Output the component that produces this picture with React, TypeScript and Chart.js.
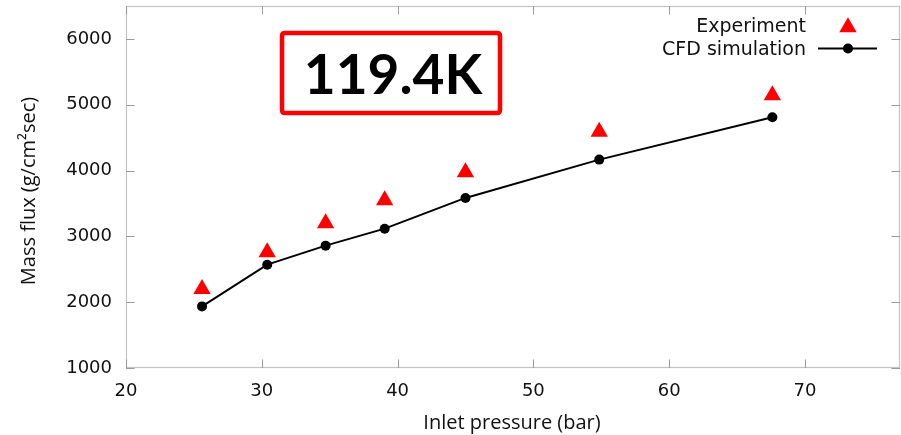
import React, { useEffect, useRef } from 'react';
import { Chart, registerables } from 'chart.js';

Chart.register(...registerables);

// ---- data ----
const pressures = [25.6, 30.4, 34.7, 39.05, 45.0, 54.85, 67.6];
const experiment = [2200, 2760, 3200, 3550, 3975, 4590, 5145];
const cfd = [1936, 2570, 2859, 3117, 3584, 4166, 4809];
const xTicks = [20, 30, 40, 50, 60, 70];
const yTicks = [1000, 2000, 3000, 4000, 5000, 6000];
const xTitle = 'Inlet pressure (bar)';
const yTitle = 'Mass flux (g/cm²sec)';
const legendLabels = ['Experiment', 'CFD simulation'];
const boxLabel = '119.4K';

const TICK_FONT = '"DejaVu Sans", sans-serif';
const TITLE_FONT = '"Open Sans", sans-serif';

const framePlugin = {
  id: 'frame',
  afterDraw(chart: any) {
    const { ctx, chartArea } = chart;
    const { left, right, top, bottom } = chartArea;
    const xs = chart.scales.x;
    const ys = chart.scales.y;
    ctx.save();
    // frame box
    ctx.strokeStyle = '#c4c4c4';
    ctx.lineWidth = 1.2;
    ctx.strokeRect(left + 0.5, top + 0.5, right - left - 1, bottom - top - 1);
    // inward ticks
    ctx.strokeStyle = '#9a9a9a';
    ctx.lineWidth = 1;
    const tl = 8.5;
    xTicks.forEach((v) => {
      const px = Math.round(xs.getPixelForValue(v)) + 0.5;
      ctx.beginPath();
      ctx.moveTo(px, bottom);
      ctx.lineTo(px, bottom - tl);
      ctx.moveTo(px, top);
      ctx.lineTo(px, top + tl);
      ctx.stroke();
    });
    yTicks.forEach((v) => {
      const py = Math.round(ys.getPixelForValue(v)) + 0.5;
      ctx.beginPath();
      ctx.moveTo(left, py);
      ctx.lineTo(left + tl, py);
      ctx.moveTo(right, py);
      ctx.lineTo(right - tl, py);
      ctx.stroke();
    });

    // axis titles
    ctx.fillStyle = '#111';
    ctx.font = `20px ${TITLE_FONT}`;
    ctx.textAlign = 'center';
    ctx.textBaseline = 'middle';
    ctx.fillText(xTitle, 512, 423);
    ctx.save();
    ctx.translate(29, 191);
    ctx.rotate(-Math.PI / 2);
    ctx.fillText(yTitle, 0, 0);
    ctx.restore();

    // legend
    ctx.font = `19px ${TICK_FONT}`;
    ctx.textAlign = 'right';
    ctx.textBaseline = 'alphabetic';
    ctx.fillStyle = '#111';
    ctx.fillText(legendLabels[0], 806, 32);
    ctx.fillText(legendLabels[1], 806, 55);
    // triangle marker
    const r = 10;
    const cx = 848;
    const cy = 27.3;
    ctx.fillStyle = '#ff0000';
    ctx.beginPath();
    ctx.moveTo(cx, cy - r);
    ctx.lineTo(cx + Math.sin((2 * Math.PI) / 3) * r, cy - Math.cos((2 * Math.PI) / 3) * r);
    ctx.lineTo(cx + Math.sin((4 * Math.PI) / 3) * r, cy - Math.cos((4 * Math.PI) / 3) * r);
    ctx.closePath();
    ctx.fill();
    // line + dot marker
    ctx.strokeStyle = '#000';
    ctx.lineWidth = 2;
    ctx.beginPath();
    ctx.moveTo(818, 48.5);
    ctx.lineTo(877, 48.5);
    ctx.stroke();
    ctx.fillStyle = '#000';
    ctx.beginPath();
    ctx.arc(848, 48.5, 5, 0, Math.PI * 2);
    ctx.fill();

    // labelled box
    ctx.strokeStyle = '#ff0000';
    ctx.lineWidth = 4.5;
    const bx = 282, by = 33, bw = 218, bh = 80, rr = 3;
    ctx.beginPath();
    ctx.moveTo(bx + rr, by);
    ctx.lineTo(bx + bw - rr, by);
    ctx.quadraticCurveTo(bx + bw, by, bx + bw, by + rr);
    ctx.lineTo(bx + bw, by + bh - rr);
    ctx.quadraticCurveTo(bx + bw, by + bh, bx + bw - rr, by + bh);
    ctx.lineTo(bx + rr, by + bh);
    ctx.quadraticCurveTo(bx, by + bh, bx, by + bh - rr);
    ctx.lineTo(bx, by + rr);
    ctx.quadraticCurveTo(bx, by, bx + rr, by);
    ctx.closePath();
    ctx.stroke();
    ctx.fillStyle = '#000';
    ctx.font = 'bold 55px Lato, sans-serif';
    ctx.textAlign = 'center';
    ctx.textBaseline = 'alphabetic';
    ctx.fillText(boxLabel, 393, 94);
    ctx.restore();
  },
};

const zeroPad = (s: any) => {
  s.paddingTop = 0;
  s.paddingBottom = 0;
  s.paddingLeft = 0;
  s.paddingRight = 0;
};

export default function App() {
  const canvasRef = useRef<HTMLCanvasElement | null>(null);

  useEffect(() => {
    document.body.style.margin = '0';
    const canvas = canvasRef.current;
    if (!canvas) return;
    const chart = new Chart(canvas, {
      type: 'scatter',
      data: {
        datasets: [
          {
            label: legendLabels[0],
            data: pressures.map((p, i) => ({ x: p, y: experiment[i] })),
            showLine: false,
            pointStyle: 'triangle',
            pointRadius: 10,
            pointBackgroundColor: '#ff0000',
            pointBorderWidth: 0,
            pointBorderColor: '#ff0000',
          },
          {
            label: legendLabels[1],
            data: pressures.map((p, i) => ({ x: p, y: cfd[i] })),
            showLine: true,
            borderColor: '#000',
            borderWidth: 2,
            pointStyle: 'circle',
            pointRadius: 5,
            pointBackgroundColor: '#000',
            pointBorderWidth: 0,
            pointBorderColor: '#000',
          },
        ],
      },
      options: {
        responsive: false,
        animation: false,
        devicePixelRatio: 1,
        layout: { autoPadding: false, padding: { top: 6, right: 1, left: 0, bottom: 0 } },
        plugins: {
          legend: { display: false },
          tooltip: { enabled: false },
        },
        scales: {
          x: {
            type: 'linear',
            min: 20,
            max: 77,
            afterBuildTicks: (s: any) => {
              s.ticks = xTicks.map((v) => ({ value: v }));
            },
            afterFit: (s: any) => {
              s.height = 67;
              zeroPad(s);
            },
            grid: { display: false, drawTicks: false },
            border: { display: false },
            ticks: {
              includeBounds: false,
              padding: 13,
              color: '#111',
              font: { family: TICK_FONT, size: 18 },
              maxRotation: 0,
              callback: (v: any) => String(v),
            },
          },
          y: {
            type: 'linear',
            min: 1000,
            max: 6500,
            afterBuildTicks: (s: any) => {
              s.ticks = yTicks.map((v) => ({ value: v }));
            },
            afterFit: (s: any) => {
              s.width = 126;
              zeroPad(s);
            },
            grid: { display: false, drawTicks: false },
            border: { display: false },
            ticks: {
              includeBounds: false,
              padding: 14,
              color: '#111',
              font: { family: TICK_FONT, size: 18 },
              callback: (v: any) => String(v),
            },
          },
        },
      },
      plugins: [framePlugin],
    });
    return () => chart.destroy();
  }, []);

  return (
    <div style={{ position: 'absolute', left: 0, top: 0, width: 901, height: 435, background: '#fff' }}>
      <canvas ref={canvasRef} width={901} height={435} style={{ display: 'block' }} />
    </div>
  );
}
